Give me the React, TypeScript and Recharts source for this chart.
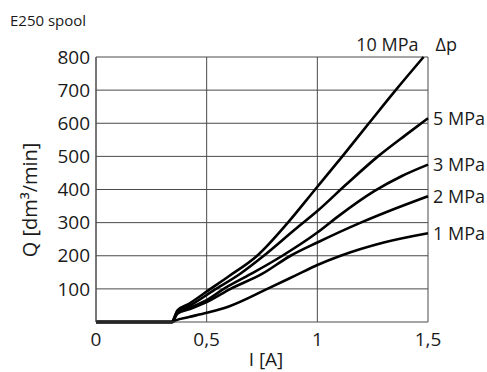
import { CartesianGrid, Label, Line, LineChart, XAxis, YAxis } from 'recharts';

// E250 spool — flow Q vs. current I for several pressure drops
const i10 = [0, 0.345, 0.352, 0.368, 0.42, 0.517, 0.6, 0.728, 0.867, 0.99, 1.113, 1.233, 1.354, 1.48];
const q10 = [0, 0, 10, 35, 55, 100, 138, 200, 300, 400, 500, 600, 700, 800];

const i5 = [0, 0.345, 0.352, 0.368, 0.42, 0.53, 0.65, 0.758, 0.9, 1, 1.13, 1.274, 1.4, 1.5];
const q5 = [0, 0, 10, 32, 48, 95, 145, 200, 280, 335, 415, 500, 565, 615];

const i3 = [0, 0.345, 0.352, 0.368, 0.42, 0.5, 0.577, 0.7, 0.842, 1, 1.1, 1.257, 1.38, 1.5];
const q3 = [0, 0, 8, 28, 42, 66, 100, 145, 200, 270, 322, 395, 440, 475];

const i2 = [0, 0.345, 0.352, 0.368, 0.42, 0.5, 0.608, 0.75, 0.879, 1, 1.196, 1.35, 1.5];
const q2 = [0, 0, 7, 25, 38, 60, 100, 145, 200, 240, 300, 342, 380];

const i1 = [0, 0.345, 0.36, 0.42, 0.5, 0.6, 0.774, 0.9, 1, 1.105, 1.3, 1.5];
const q1 = [0, 0, 5, 15, 28, 47, 100, 140, 172, 200, 240, 268];

const xTicks = [0, 0.5, 1, 1.5];
const yTicks = [100, 200, 300, 400, 500, 600, 700, 800];

const series = [
  { name: '10 MPa', i: i10, q: q10 },
  { name: '5 MPa', i: i5, q: q5 },
  { name: '3 MPa', i: i3, q: q3 },
  { name: '2 MPa', i: i2, q: q2 },
  { name: '1 MPa', i: i1, q: q1 },
];

const FONT = '"Open Sans", sans-serif';
const INK = '#1a1a1a';
const GRID = '#4a4a4a';

function endLabel(name: string, last: number, top: boolean) {
  return (props: any) => {
    if (props.index !== last) return null;
    const { x, y } = props;
    if (top) {
      return (
        <g>
          <text x={x - 5} y={y - 6} textAnchor="end" fontFamily={FONT} fontSize={18} fill={INK}>{name}</text>
          <text x={x + 12} y={y - 6} textAnchor="start" fontFamily={FONT} fontSize={18} fill={INK}>Δp</text>
        </g>
      );
    }
    return (
      <text x={x + 5} y={y} dy="0.36em" textAnchor="start" fontFamily={FONT} fontSize={18} fill={INK}>{name}</text>
    );
  };
}

export default function App() {
  return (
    <div style={{ position: 'absolute', left: 0, top: 0, width: 487, height: 372, background: '#fff' }}>
      <div style={{ position: 'absolute', left: 10, top: 13, fontFamily: FONT, fontSize: 15, color: INK, lineHeight: 1 }}>
        E250 spool
      </div>
      <LineChart width={487} height={372} margin={{ top: 57, right: 59, bottom: 0, left: 0 }}>
        <CartesianGrid stroke={GRID} strokeWidth={1} horizontalValues={yTicks} verticalValues={xTicks} />
        <XAxis
          type="number"
          dataKey="i"
          domain={[0, 1.5]}
          ticks={xTicks}
          height={50}
          tickLine={false}
          tickSize={0}
          tickMargin={11}
          axisLine={{ stroke: GRID }}
          tickFormatter={(v: number) => String(v).replace('.', ',')}
          tick={{ fontFamily: FONT, fontSize: 19, fill: INK }}
          allowDuplicatedCategory={false}
        >
          <Label
            content={() => (
              <text x={266} y={366} textAnchor="middle" fontFamily={FONT} fontSize={19} fill={INK}>I [A]</text>
            )}
          />
        </XAxis>
        <YAxis
          type="number"
          domain={[0, 800]}
          ticks={yTicks}
          width={96}
          tickLine={false}
          tickSize={0}
          tickMargin={6}
          axisLine={{ stroke: GRID }}
          tick={{ fontFamily: FONT, fontSize: 19, fill: INK }}
        >
          <Label
            content={() => (
              <text
                x={29}
                y={200}
                transform="rotate(-90 29 200)"
                textAnchor="middle"
                dominantBaseline="central"
                fontFamily={FONT}
                fontSize={20}
                fill={INK}
              >
                Q [dm³/min]
              </text>
            )}
          />
        </YAxis>
        {series.map((s, k) => (
          <Line
            key={s.name}
            data={s.i.map((x, n) => ({ i: x, q: s.q[n] }))}
            dataKey="q"
            type="monotone"
            stroke="#000"
            strokeWidth={2.6}
            dot={false}
            activeDot={false}
            isAnimationActive={false}
            label={endLabel(s.name, s.i.length - 1, k === 0)}
          />
        ))}
      </LineChart>
    </div>
  );
}
